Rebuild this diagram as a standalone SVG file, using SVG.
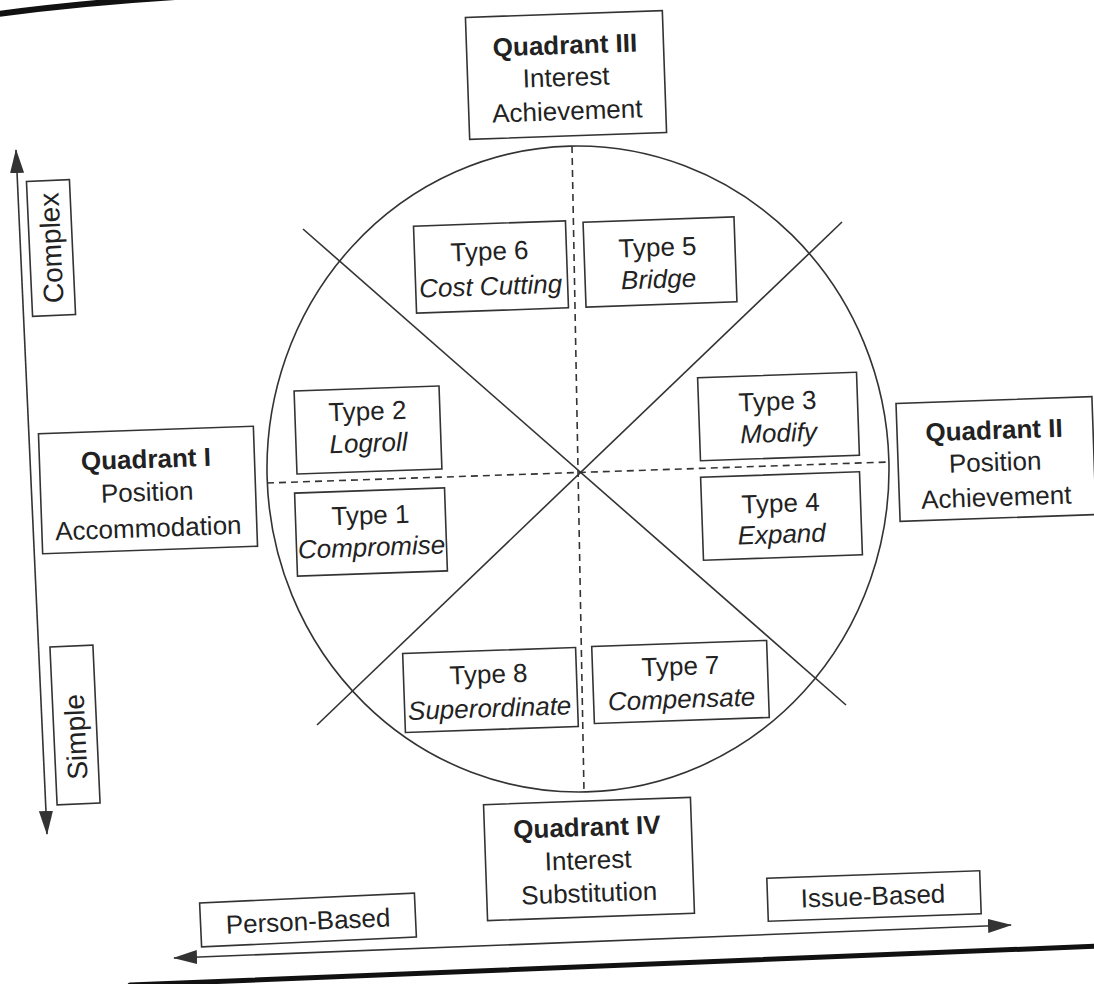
<svg xmlns="http://www.w3.org/2000/svg" width="1094" height="984" viewBox="0 0 1094 984">
<defs>
<style>
.box{fill:#fff;stroke:#333;stroke-width:1.6}
.ln{fill:none;stroke:#333;stroke-width:1.6}
.dash{stroke-dasharray:7 5}
.t{font-family:"Liberation Sans",Arial,Helvetica,sans-serif;font-size:26px;fill:#222;text-anchor:middle}
.b{font-weight:bold}
.i{font-style:italic}
.v{font-size:28px}
.edge{fill:none;stroke:#111;stroke-linecap:round}
</style>
<marker id="ah" viewBox="0 0 24 14" refX="23" refY="7" markerWidth="24" markerHeight="14" markerUnits="userSpaceOnUse" orient="auto-start-reverse">
<path d="M0,0 L24,7 L0,14 Z" fill="#333"/>
</marker>
</defs>
<rect width="1094" height="984" fill="#fff"/>
<g id="page-edge">
<path class="edge" d="M-2,14 Q80,3 175,-3" stroke-width="6"/>
<path class="edge" d="M130,985 Q610,966 1100,946" stroke-width="5"/>
</g>
<g id="connectors">
<ellipse class="ln" cx="578" cy="469" rx="311" ry="323" transform="rotate(-1.5 578 469)"/>
<line class="ln dash" x1="267" y1="483" x2="889" y2="462"/>
<line class="ln dash" x1="572" y1="146" x2="584" y2="792"/>
<line class="ln" x1="303" y1="229" x2="846" y2="705"/>
<line class="ln" x1="842" y1="222" x2="317" y2="725"/>
<line class="ln" x1="16" y1="150" x2="47" y2="834" marker-start="url(#ah)" marker-end="url(#ah)"/>
<line class="ln" x1="174" y1="958" x2="1011" y2="925" marker-start="url(#ah)" marker-end="url(#ah)"/>
</g>
<g id="quadrant3" transform="rotate(-2 566 75)">
<rect class="box" x="467.5" y="14" width="197" height="122"/>
<text class="t b" x="566" y="54">Quadrant III</text>
<text class="t" x="566" y="86">Interest</text>
<text class="t" x="566" y="120">Achievement</text>
</g>
<g id="quadrant1" transform="rotate(-2 148 490)">
<rect class="box" x="40.5" y="430" width="215" height="120"/>
<text class="t b" x="147" y="468">Quadrant I</text>
<text class="t" x="147" y="501">Position</text>
<text class="t" x="147" y="537">Accommodation</text>
</g>
<g id="quadrant2" transform="rotate(-2 996 459)">
<rect class="box" x="898" y="400" width="196" height="118"/>
<text class="t b" x="995" y="439">Quadrant II</text>
<text class="t" x="995" y="471">Position</text>
<text class="t" x="995" y="506">Achievement</text>
</g>
<g id="quadrant4" transform="rotate(-2 589 859)">
<rect class="box" x="485.5" y="801" width="207" height="116"/>
<text class="t b" x="588" y="836">Quadrant IV</text>
<text class="t" x="588" y="869">Interest</text>
<text class="t" x="588" y="902">Substitution</text>
</g>
<g id="type6" transform="rotate(-2 491 267)">
<rect class="box" x="415" y="223.5" width="152" height="87"/>
<text class="t" x="490" y="260">Type 6</text>
<text class="t i" x="490" y="295">Cost Cutting</text>
</g>
<g id="type5" transform="rotate(-2 660 262)">
<rect class="box" x="584.5" y="219.5" width="151" height="85"/>
<text class="t" x="658" y="256">Type 5</text>
<text class="t i" x="658" y="288">Bridge</text>
</g>
<g id="type2" transform="rotate(-2 368 430)">
<rect class="box" x="295.5" y="388.5" width="145" height="83"/>
<text class="t" x="368" y="420">Type 2</text>
<text class="t i" x="368" y="452">Logroll</text>
</g>
<g id="type1" transform="rotate(-2 371 532)">
<rect class="box" x="296" y="490.5" width="150" height="83"/>
<text class="t" x="371" y="524">Type 1</text>
<text class="t i" x="371" y="556">Compromise</text>
</g>
<g id="type3" transform="rotate(-2 778.5 416.5)">
<rect class="box" x="699" y="375" width="159" height="83"/>
<text class="t" x="778" y="410">Type 3</text>
<text class="t i" x="778" y="442">Modify</text>
</g>
<g id="type4" transform="rotate(-2 781.5 516)">
<rect class="box" x="702" y="474.5" width="159" height="83"/>
<text class="t" x="781" y="512">Type 4</text>
<text class="t i" x="781" y="543">Expand</text>
</g>
<g id="type8" transform="rotate(-2 490.5 690)">
<rect class="box" x="404" y="650.5" width="173" height="79"/>
<text class="t" x="489" y="683">Type 8</text>
<text class="t i" x="489" y="717">Superordinate</text>
</g>
<g id="type7" transform="rotate(-2 680.5 682)">
<rect class="box" x="593" y="643.5" width="175" height="77"/>
<text class="t" x="681" y="675">Type 7</text>
<text class="t i" x="681" y="708">Compensate</text>
</g>
<g id="complex" transform="rotate(-2.6 51 248)">
<rect class="box" x="29.5" y="180.5" width="43" height="135"/>
<text class="t v" transform="translate(61 248) rotate(-90)">Complex</text>
</g>
<g id="simple" transform="rotate(-2.6 75 725)">
<rect class="box" x="53.5" y="646" width="43" height="158"/>
<text class="t v" transform="translate(85 737) rotate(-90)">Simple</text>
</g>
<g id="person-based" transform="rotate(-2.6 308 920)">
<rect class="box" x="200.5" y="898" width="215" height="44"/>
<text class="t" x="308" y="930">Person-Based</text>
</g>
<g id="issue-based" transform="rotate(-2 874 896)">
<rect class="box" x="767.5" y="874.5" width="213" height="43"/>
<text class="t" x="873" y="905">Issue-Based</text>
</g>
</svg>
